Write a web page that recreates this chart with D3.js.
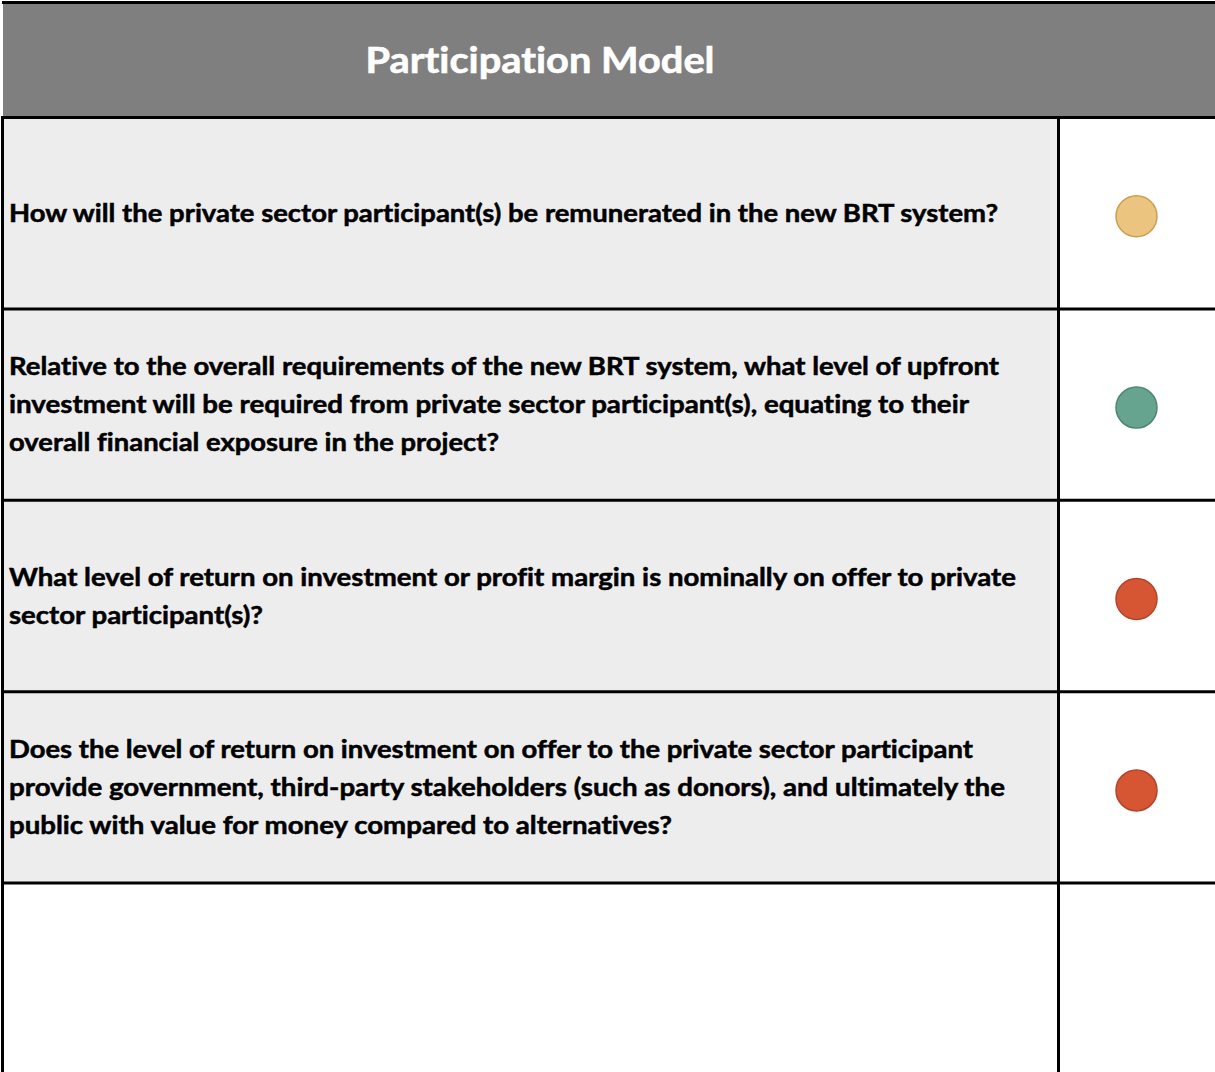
<!DOCTYPE html>
<html><head><meta charset="utf-8">
<script src="https://cdn.jsdelivr.net/npm/d3@7"></script>
<style>html,body{margin:0;padding:0;background:#fff;}svg{display:block;}text{font-variant-ligatures:none;font-feature-settings:"liga" 0;}</style>
</head><body>
<script>
const title = "Participation Model";
const questions = [
  ["How will the private sector participant(s) be remunerated in the new BRT system?"],
  ["Relative to the overall requirements of the new BRT system, what level of upfront",
   "investment will be required from private sector participant(s), equating to their",
   "overall financial exposure in the project?"],
  ["What level of return on investment or profit margin is nominally on offer to private",
   "sector participant(s)?"],
  ["Does the level of return on investment on offer to the private sector participant",
   "provide government, third-party stakeholders (such as donors), and ultimately the",
   "public with value for money compared to alternatives?"],
  []
];
const lineWidths = [[989],[990,960,490],[1007,254],[964,996,663],[]];
const ratings = ["amber","green","red","red",null];
const ratingFill = {amber:"#ebc47f", green:"#67a48f", red:"#d65532"};
const ratingStroke = {amber:"#c9a04f", green:"#4d8672", red:"#b3432a"};

const W = 1215, H = 1072;
const svg = d3.select("body").append("svg").attr("width", W).attr("height", H);

const rowIdx = d3.range(questions.length);
const y = d3.scaleBand().domain(rowIdx).range([117.5, 117.5 + 191.4*questions.length]).padding(0);
const x = d3.scaleLinear().domain([0,1]).range([2.5, 1058.5]);

// header
svg.append("rect").attr("x",3).attr("y",3).attr("width",W-3).attr("height",114).attr("fill","#7f7f7f");
svg.append("line").attr("x1",2).attr("x2",W).attr("y1",2.5).attr("y2",2.5).attr("stroke","#000").attr("stroke-width",3);
svg.append("text").attr("x",540).attr("y",73).attr("text-anchor","middle")
  .attr("font-family","Lato, 'Open Sans', sans-serif").attr("font-weight","bold")
  .attr("font-size",36).attr("fill","#fff").attr("stroke","#fff").attr("stroke-width",0.6)
  .attr("textLength",349).attr("lengthAdjust","spacingAndGlyphs").text(title);

// row fills
const rows = svg.append("g").selectAll("g").data(rowIdx).join("g");
rows.append("rect").attr("x",x(0)).attr("y",d=>y(d)).attr("width",x(1)-x(0)).attr("height",y.bandwidth())
  .attr("fill",d=>questions[d].length? "#ededed" : "#fff");

// texts
rows.each(function(d){
  const g = d3.select(this);
  const lines = questions[d];
  const cy = y(d) + y.bandwidth()/2;
  lines.forEach((t,i)=>{
    g.append("text").attr("x",9).attr("y", cy + 8.5 + (i-(lines.length-1)/2)*38)
      .attr("font-family","Lato, 'Open Sans', sans-serif").attr("font-weight","bold")
      .attr("font-size",24.5).attr("fill","#000").attr("stroke","#000").attr("stroke-width",0.5)
      .attr("textLength", lineWidths[d][i]).attr("lengthAdjust","spacingAndGlyphs").text(t);
  });
});

// rating circles
rows.filter(d=>ratings[d]).append("circle")
  .attr("cx",1136.5).attr("cy",d=>y(d)+y.bandwidth()/2+3).attr("r",20.5)
  .attr("fill",d=>ratingFill[ratings[d]]).attr("stroke",d=>ratingStroke[ratings[d]]).attr("stroke-width",1.5);

// grid lines
const gl = svg.append("g").attr("stroke","#000").attr("stroke-width",3);
rowIdx.forEach(d=>{
  gl.append("line").attr("x1",1).attr("x2",W).attr("y1",y(d)).attr("y2",y(d));
});
gl.append("line").attr("x1",x(0)).attr("x2",x(0)).attr("y1",y(0)-1.5).attr("y2",H);
gl.append("line").attr("x1",x(1)).attr("x2",x(1)).attr("y1",y(0)-1.5).attr("y2",H);
</script>
</body></html>
